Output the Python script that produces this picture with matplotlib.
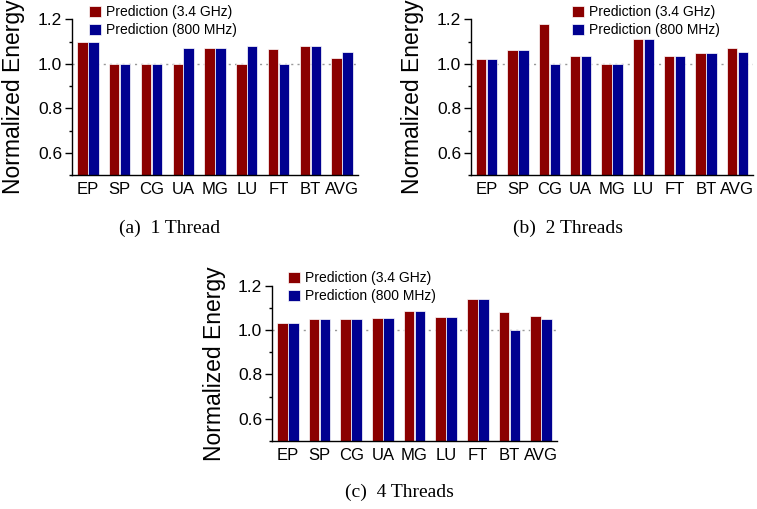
import matplotlib
matplotlib.use("Agg")
import matplotlib.pyplot as plt
from matplotlib.ticker import MultipleLocator

plt.rcParams['font.family'] = ['Liberation Sans', 'DejaVu Sans']

benchmarks = ['EP', 'SP', 'CG', 'UA', 'MG', 'LU', 'FT', 'BT', 'AVG']
legend_labels = ['Prediction (3.4 GHz)', 'Prediction (800 MHz)']
captions = ['(a)  1 Thread', '(b)  2 Threads', '(c)  4 Threads']

# normalized energy, one pair of lists per thread count
t1_fast = [1.096, 1.0, 1.0, 1.0, 1.070, 1.0, 1.066, 1.078, 1.027]
t1_slow = [1.096, 1.0, 1.0, 1.073, 1.070, 1.082, 1.0, 1.078, 1.052]
t2_fast = [1.022, 1.061, 1.177, 1.037, 1.0, 1.110, 1.036, 1.050, 1.069]
t2_slow = [1.022, 1.061, 1.0, 1.037, 1.0, 1.110, 1.036, 1.050, 1.052]
t4_fast = [1.030, 1.050, 1.051, 1.056, 1.084, 1.057, 1.140, 1.083, 1.063]
t4_slow = [1.030, 1.050, 1.051, 1.056, 1.084, 1.057, 1.140, 1.0, 1.048]

red = '#8b0000'
blue = '#000090'

W, H = 757, 509
fig = plt.figure(figsize=(W / 100, H / 100), dpi=100)


def panel(left, right, y_lo, y_hi, fast, slow, caption, cap_x, cap_y, leg_x, leg_y):
    # y_lo / y_hi: pixel rows of 0.5 and 1.2
    px = (y_lo - y_hi) / 0.7
    top = y_hi - 0.05 * px
    ax = fig.add_axes([left / W, 1 - y_lo / H, (right - left) / W, (y_lo - top) / H])
    x = range(len(benchmarks))
    off = 0.172
    ax.bar([i - off for i in x], fast, width=0.33, color=red, edgecolor='white',
           linewidth=0.5, label=legend_labels[0], zorder=2)
    ax.bar([i + off for i in x], slow, width=0.33, color=blue, edgecolor='white',
           linewidth=0.5, label=legend_labels[1], zorder=2)
    ax.axhline(1.0, color='#999999', linestyle=(0, (1.5, 3)), linewidth=1, zorder=1)
    ax.set_xlim(-0.5, 8.5)
    ax.set_ylim(0.5, 1.25)
    ax.spines['top'].set_visible(False)
    ax.spines['right'].set_visible(False)
    ax.spines['left'].set_bounds(0.5, 1.2)
    ax.spines['left'].set_linewidth(1.0)
    ax.spines['bottom'].set_linewidth(1.0)
    ax.set_yticks([0.6, 0.8, 1.0, 1.2])
    ax.set_yticklabels(['0.6', '0.8', '1.0', '1.2'], fontsize=12.5)
    ax.yaxis.set_minor_locator(MultipleLocator(0.1))
    ax.tick_params(axis='y', which='major', length=5, width=1, pad=2)
    ax.tick_params(axis='y', which='minor', length=2.5, width=1)
    ax.set_xticks(list(x))
    ax.set_xticklabels(benchmarks, fontsize=12)
    ax.tick_params(axis='x', length=0, pad=5)
    ax.legend(loc='upper left', bbox_to_anchor=(leg_x / W, 1 - leg_y / H),
              bbox_transform=fig.transFigure, frameon=False, fontsize=10,
              handlelength=0.85, handleheight=0.85, handletextpad=0.4,
              labelspacing=0.3, borderpad=0.2, borderaxespad=0)
    fig.text((left - 58) / W, 1 - (y_lo + y_hi) / 2 / H, 'Normalized Energy',
             rotation=90, ha='center', va='center', fontsize=16.5)
    fig.text(cap_x / W, 1 - cap_y / H, caption, ha='center', va='center',
             fontsize=14, family=['Liberation Serif', 'DejaVu Serif'])
    return ax


panel(72, 358, 175, 19.3, t1_fast, t1_slow, captions[0], 170, 228, 86, 2.5)
panel(471, 753, 175, 19.3, t2_fast, t2_slow, captions[1], 568, 228, 569, 2.5)
panel(272, 557, 441, 285.7, t4_fast, t4_slow, captions[2], 399, 492, 285, 268.5)

fig.savefig('out.png', dpi=100)
